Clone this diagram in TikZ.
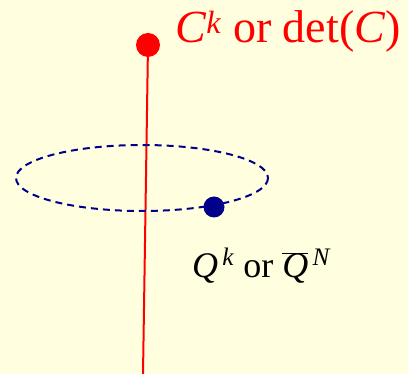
\documentclass[tikz,border=0pt]{standalone}
\usepackage{fontspec}
\setmainfont{Liberation Serif}
\definecolor{bgyellow}{RGB}{255,255,224}
\definecolor{navyblue}{RGB}{0,0,139}
\tikzset{
  dotnode/.style={circle, inner sep=0pt},
  lbl/.style={anchor=base west, inner sep=0pt}
}
\begin{document}
\begin{tikzpicture}[x=1pt,y=-1pt]
\fill[bgyellow] (0,0) rectangle (408,374);
\useasboundingbox (0,0) rectangle (408,374);
\coordinate (top) at (148,45);
\coordinate (bot) at (143,374);
\draw[red, line width=2pt] (bot) -- (top);
\draw[navyblue, line width=2pt, dash pattern=on 7pt off 5pt] (142,178) ellipse [x radius=126, y radius=33];
\node[dotnode, fill=red, minimum size=24pt] (cdot) at (top) {};
\node[dotnode, fill=navyblue, minimum size=21pt] (qdot) at (214,207) {};
\node[lbl, text=red, font=\fontsize{46}{54}\selectfont] (ctext) at (175,43) {\textit{C}\textsuperscript{\textit{k}} or det(\textit{C})};
\node[lbl, font=\fontsize{36}{44}\selectfont] (qtext) at (192,278) {\textit{Q}\raisebox{0.1em}{\textsuperscript{\,\textit{k}}} or $\overline{\hbox{\textit{Q}}}$\raisebox{0.1em}{\textsuperscript{\,\textit{N}}}};
\end{tikzpicture}
\end{document}
